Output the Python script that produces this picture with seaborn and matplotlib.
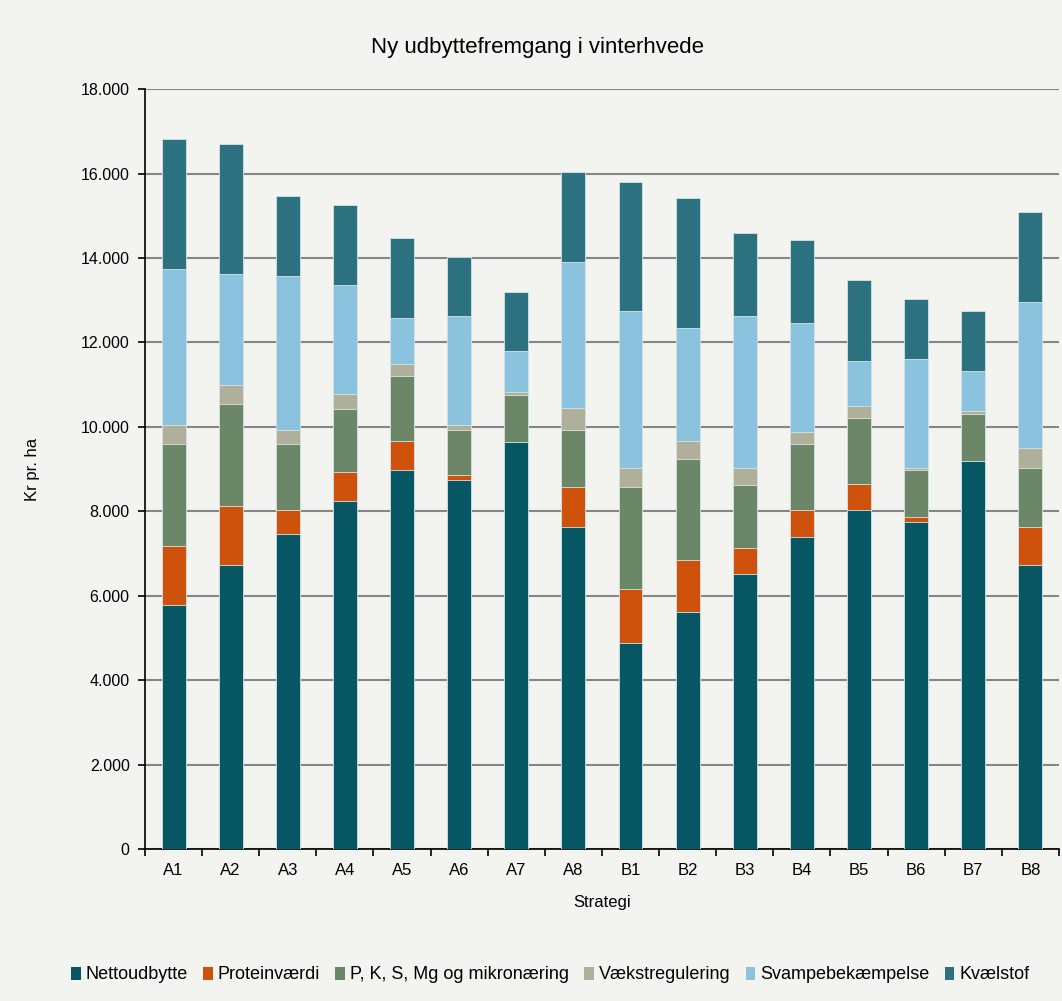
import matplotlib.pyplot as plt
import matplotlib.ticker as mticker
import numpy as np
import pandas as pd
import seaborn as sns
from matplotlib.patches import Patch

# data (kr pr. ha)
strategier = ["A1", "A2", "A3", "A4", "A5", "A6", "A7", "A8",
              "B1", "B2", "B3", "B4", "B5", "B6", "B7", "B8"]
komponenter = ["Nettoudbytte", "Proteinværdi", "P, K, S, Mg og mikronæring",
               "Vækstregulering", "Svampebekæmpelse", "Kvælstof"]
nettoudbytte = [5780, 6730, 7460, 8240, 8980, 8750, 9650, 7630,
                4880, 5610, 6510, 7400, 8020, 7740, 9200, 6730]
proteinvaerdi = [1400, 1400, 560, 680, 680, 120, 0, 950,
                 1290, 1230, 610, 620, 620, 120, 0, 900]
pk_mikro = [2410, 2410, 1570, 1510, 1550, 1050, 1110, 1340,
            2410, 2410, 1510, 1570, 1580, 1120, 1110, 1400]
vaekstregulering = [450, 450, 340, 340, 290, 120, 60, 520,
                    450, 410, 400, 280, 270, 50, 70, 460]
svampebekaempelse = [3700, 2640, 3640, 2580, 1070, 2580, 970, 3470,
                     3710, 2680, 3590, 2580, 1070, 2580, 950, 3470]
kvaelstof = [3080, 3080, 1900, 1900, 1900, 1410, 1400, 2130,
             3070, 3080, 1960, 1970, 1910, 1410, 1410, 2130]

farver = ["#065763", "#CF520C", "#6C8768", "#B0AF9A", "#8BC3DF", "#2C7180"]
bg = "#F3F3EF"

df = pd.DataFrame({"Strategi": strategier})
for navn, vals in zip(komponenter, [nettoudbytte, proteinvaerdi, pk_mikro,
                                     vaekstregulering, svampebekaempelse, kvaelstof]):
    df[navn] = vals
cum = df[komponenter].cumsum(axis=1)
cum["Strategi"] = df["Strategi"]

sns.set_style("white")
plt.rcParams["font.family"] = ["Liberation Sans", "DejaVu Sans"]
plt.rcParams["text.color"] = "black"
plt.rcParams["axes.labelcolor"] = "black"
plt.rcParams["xtick.color"] = "black"
plt.rcParams["ytick.color"] = "black"

fig = plt.figure(figsize=(10.62, 10.01), dpi=100, facecolor=bg)
ax = fig.add_axes([0.1365, 0.1518, 0.8606, 0.7592], facecolor=bg)

# draw cumulative totals from top to bottom so each layer covers the one above
for navn, farve in reversed(list(zip(komponenter, farver))):
    sns.barplot(data=cum, x="Strategi", y=navn, color=farve, width=0.42,
                saturation=1, edgecolor="#D6E4E6", linewidth=0.6,
                ax=ax, zorder=3)

ax.set_ylim(0, 18000)
ax.set_xlim(-0.5, len(strategier) - 0.5)
ax.yaxis.set_major_locator(mticker.MultipleLocator(2000))
ax.yaxis.set_major_formatter(
    mticker.FuncFormatter(lambda v, p: f"{int(v):,}".replace(",", ".")))
ax.grid(axis="y", color="#868686", linewidth=1.5, zorder=0)
ax.set_axisbelow(True)

for s in ["top", "right"]:
    ax.spines[s].set_visible(False)
for s in ["left", "bottom"]:
    ax.spines[s].set_color("black")
    ax.spines[s].set_linewidth(1.2)

ax.tick_params(axis="y", direction="out", length=5, width=1.2, color="black",
               labelsize=11.5, pad=6, left=True)
ax.tick_params(axis="x", which="major", length=0, labelsize=12, pad=10)
ax.set_xticks(np.arange(-0.5, len(strategier), 1), minor=True)
ax.tick_params(axis="x", which="minor", direction="out", length=5, width=1.2,
               color="black", bottom=True)

ax.set_xlabel("Strategi", fontsize=12, labelpad=12)
ax.set_ylabel("Kr pr. ha", fontsize=12, labelpad=0)
ax.yaxis.set_label_coords(-0.115, 0.5)
fig.text(0.506, 1 - 47 / 1001, "Ny udbyttefremgang i vinterhvede",
         ha="center", va="center", fontsize=16)

handles = [Patch(facecolor=f, edgecolor="none", label=n)
           for n, f in zip(komponenter, farver)]
fig.legend(handles=handles, loc="center", bbox_to_anchor=(0.518, 0.026),
           ncol=6, frameon=False, fontsize=13, handlelength=0.55,
           handleheight=0.75, handletextpad=0.25, columnspacing=0.85)

fig.savefig("out.png", dpi=100, facecolor=bg)
